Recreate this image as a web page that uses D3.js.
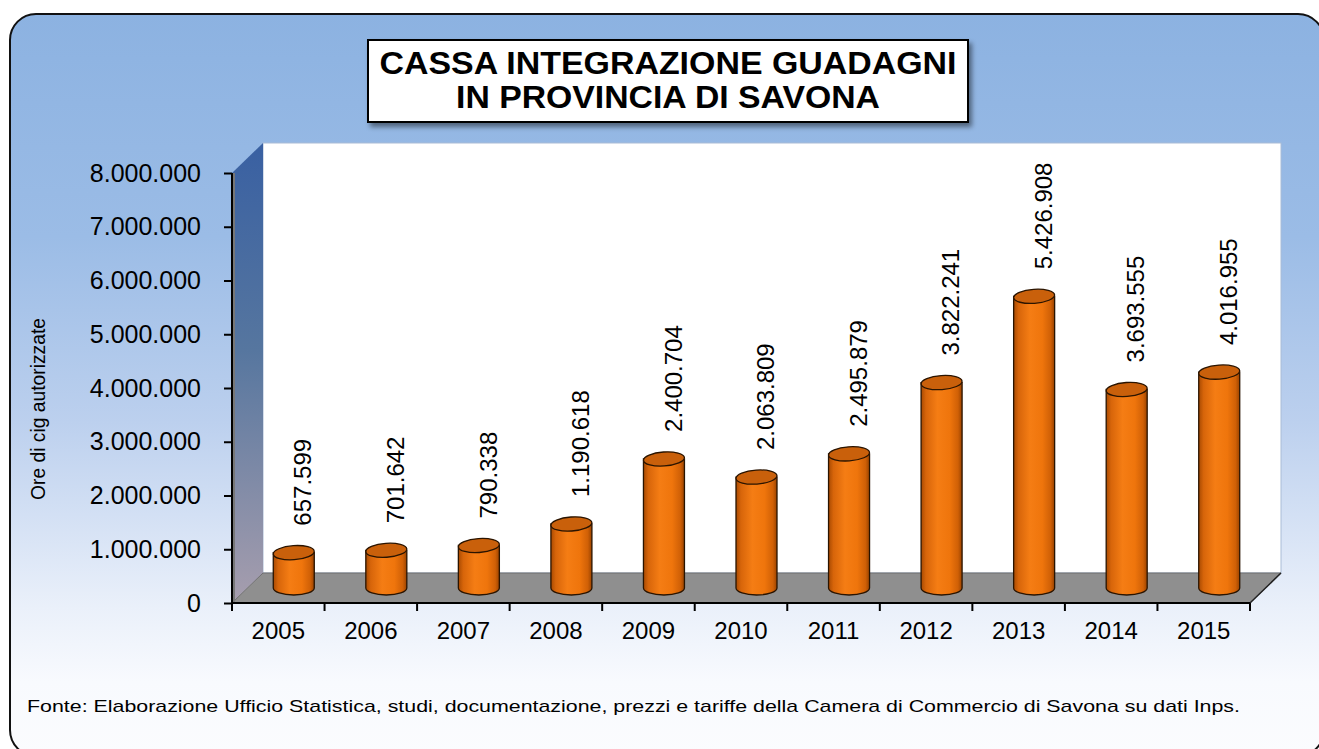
<!DOCTYPE html>
<html><head><meta charset="utf-8">
<script src="https://cdn.jsdelivr.net/npm/d3@7"></script>
<style>
body{margin:0;background:#fff;overflow:hidden}
svg{display:block}
text{font-family:Arial,"Liberation Sans",sans-serif;fill:#000}
</style>
</head><body>
<svg id="c" width="1319" height="749"></svg>
<script>
// ---- data ----
const years = ["2005","2006","2007","2008","2009","2010","2011","2012","2013","2014","2015"];
const hours = [657599, 701642, 790338, 1190618, 2400704, 2063809, 2495879, 3822241, 5426908, 3693555, 4016955];
const yTicks = [0, 1000000, 2000000, 3000000, 4000000, 5000000, 6000000, 7000000, 8000000];
const titleLines = ["CASSA INTEGRAZIONE GUADAGNI", "IN PROVINCIA DI SAVONA"];
const yTitle = "Ore di cig autorizzate";
const sourceNote = "Fonte: Elaborazione Ufficio Statistica, studi, documentazione, prezzi e tariffe della Camera di Commercio di Savona su dati Inps.";

// ---- layout ----
const svg = d3.select("#c");
const X0 = 232, X1 = 1250, YB = 603, YT = 173;
const DX = 31, DY = -30;
const fmt = d3.formatLocale({decimal: ",", thousands: ".", grouping: [3], currency: ["", ""]}).format(",d");

const x = d3.scaleBand().domain(years).range([X0, X1]);
const y = d3.scaleLinear().domain([0, 8000000]).range([YB, YT]);

const defs = svg.append("defs");
const bg = defs.append("linearGradient").attr("id", "bg").attr("x1", 0).attr("y1", 0).attr("x2", 0).attr("y2", 1);
[[0, "#8cb2e1"], [0.3, "#9bbce6"], [0.55, "#bcd0ee"], [0.8, "#eaf0fa"], [0.9, "#f8fafe"], [1, "#fbfcfe"]]
  .forEach(s => bg.append("stop").attr("offset", s[0]).attr("stop-color", s[1]));
const wall = defs.append("linearGradient").attr("id", "wall").attr("x1", 0).attr("y1", 0).attr("x2", 0).attr("y2", 1);
[[0, "#3960a2"], [0.45, "#56769f"], [1, "#a79eae"]]
  .forEach(s => wall.append("stop").attr("offset", s[0]).attr("stop-color", s[1]));
const cyl = defs.append("linearGradient").attr("id", "cyl").attr("x1", 0).attr("y1", 0).attr("x2", 1).attr("y2", 0);
[[0, "#a84a02"], [0.12, "#d7650a"], [0.4, "#f57d14"], [0.7, "#ef750c"], [0.9, "#d06006"], [1, "#9a4300"]]
  .forEach(s => cyl.append("stop").attr("offset", s[0]).attr("stop-color", s[1]));
const sh = defs.append("filter").attr("id", "sh").attr("x", "-10%").attr("y", "-20%").attr("width", "130%").attr("height", "160%");
sh.append("feDropShadow").attr("dx", 3).attr("dy", 4).attr("stdDeviation", 2.5).attr("flood-color", "#000").attr("flood-opacity", 0.45);

// frame
svg.append("rect").attr("x", 10).attr("y", 14).attr("width", 1314).attr("height", 742).attr("rx", 26)
  .attr("fill", "url(#bg)").attr("stroke", "#111").attr("stroke-width", 2);

// title
svg.append("rect").attr("x", 368).attr("y", 40).attr("width", 600).attr("height", 82)
  .attr("fill", "#fff").attr("stroke", "#000").attr("stroke-width", 2).attr("filter", "url(#sh)");
const titleW = [577, 424];
titleLines.forEach((t, i) => {
  svg.append("text").attr("x", 668).attr("y", 74 + i * 34).attr("text-anchor", "middle")
    .attr("font-size", 31).attr("font-weight", "bold")
    .attr("textLength", titleW[i]).attr("lengthAdjust", "spacingAndGlyphs").text(t);
});

// back wall
svg.append("rect").attr("x", X0 + DX).attr("y", YT + DY).attr("width", X1 - X0).attr("height", YB - YT)
  .attr("fill", "#fff").attr("stroke", "#a9bcd6").attr("stroke-width", 1);
// left wall
svg.append("path").attr("d", `M${X0},${YT}L${X0 + DX},${YT + DY}L${X0 + DX},${YB + DY}L${X0},${YB}Z`)
  .attr("fill", "url(#wall)");
// floor
svg.append("path").attr("d", `M${X0},${YB}L${X1},${YB}L${X1 + DX},${YB + DY}L${X0 + DX},${YB + DY}Z`)
  .attr("fill", "#8f8f8f").attr("stroke", "#6f6f6f").attr("stroke-width", 1);
svg.append("line").attr("x1", X1).attr("y1", YB).attr("x2", X1 + DX).attr("y2", YB + DY)
  .attr("stroke", "#222").attr("stroke-width", 1.5);

// y axis
const ya = svg.append("g").attr("transform", `translate(${X0},0)`)
  .call(d3.axisLeft(y).tickValues(yTicks).tickFormat(fmt).tickSize(8).tickPadding(23));
ya.select(".domain").remove();
ya.selectAll(".tick line").attr("stroke", "#000").attr("stroke-width", 2);
ya.selectAll(".tick text").attr("font-size", 25).attr("font-family", "Arial, 'Liberation Sans', sans-serif").attr("fill", "#000");
svg.append("line").attr("x1", X0 + 2).attr("y1", YT).attr("x2", X0 + 2).attr("y2", YB).attr("stroke", "#777").attr("stroke-width", 2);
svg.append("line").attr("x1", X0).attr("y1", YT).attr("x2", X0).attr("y2", YB).attr("stroke", "#000").attr("stroke-width", 2);

// x axis
const xa = svg.append("g").attr("transform", `translate(0,${YB})`)
  .call(d3.axisBottom(x).tickSize(0).tickPadding(19));
xa.select(".domain").remove();
xa.selectAll(".tick text").attr("font-size", 24).attr("font-family", "Arial, 'Liberation Sans', sans-serif").attr("fill", "#000");
const bounds = years.map(d => x(d)).concat([X1]);
svg.append("g").selectAll("line").data(bounds).join("line")
  .attr("x1", d => d).attr("x2", d => d).attr("y1", YB).attr("y2", YB + 8)
  .attr("stroke", "#000").attr("stroke-width", 2);
svg.append("line").attr("x1", X0).attr("y1", YB).attr("x2", X1).attr("y2", YB).attr("stroke", "#000").attr("stroke-width", 2);

// cylinders
const rx = 20.5, ry = 7;
const g = svg.append("g");
years.forEach((yr, i) => {
  const v = hours[i];
  const cx = x(yr) + x.bandwidth() / 2 + DX / 2;
  const baseY = YB + DY / 2;
  const topY = y(v) + DY / 2;
  g.append("path")
    .attr("d", `M${cx - rx},${topY}L${cx - rx},${baseY}A${rx},${ry} 0 0 0 ${cx + rx},${baseY}L${cx + rx},${topY}Z`)
    .attr("fill", "url(#cyl)").attr("stroke", "#2a1400").attr("stroke-width", 1.3);
  g.append("ellipse").attr("cx", cx).attr("cy", topY).attr("rx", rx).attr("ry", ry)
    .attr("transform", `rotate(-4,${cx},${topY})`)
    .attr("fill", "#c9600b").attr("stroke", "#2a1400").attr("stroke-width", 1.3);
  // value label
  const lx = cx + 9, ly = y(v) - 42;
  g.append("text").attr("transform", `translate(${lx},${ly}) rotate(-90)`)
    .attr("dy", "0.36em").attr("font-size", 24).text(fmt(v));
});

// y title
svg.append("text").attr("transform", "translate(38,409) rotate(-90)").attr("text-anchor", "middle")
  .attr("dy", "0.35em").attr("font-size", 20).attr("textLength", 182).attr("lengthAdjust", "spacingAndGlyphs").text(yTitle);

// source
svg.append("text").attr("x", 27).attr("y", 712).attr("font-size", 17)
  .attr("textLength", 1213).attr("lengthAdjust", "spacingAndGlyphs").text(sourceNote);
</script>
</body></html>
